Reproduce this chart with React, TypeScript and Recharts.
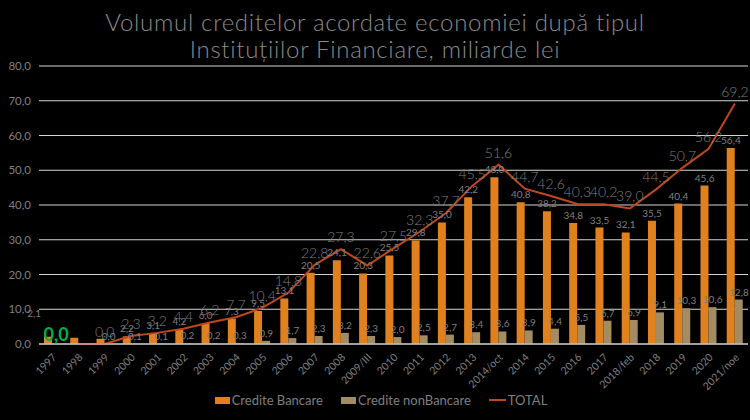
import { ComposedChart, Bar, Line, XAxis, YAxis, CartesianGrid, Legend, LabelList } from 'recharts';

const years = [
  '1997', '1998', '1999', '2000', '2001', '2002', '2003', '2004', '2005', '2006',
  '2007', '2008', '2009/III', '2010', '2011', '2012', '2013', '2014/oct', '2014', '2015',
  '2016', '2017', '2018/feb', '2018', '2019', '2020', '2021/noe',
];
const bancare = [
  2.1, 1.8, 1.5, 2.2, 3.1, 4.2, 6.0, 7.3, 9.5, 13.1,
  20.5, 24.1, 20.3, 25.5, 29.8, 35.0, 42.2, 48.0, 40.8, 38.2,
  34.8, 33.5, 32.1, 35.5, 40.4, 45.6, 56.4,
];
const nonBancare = [
  0.0, null, 0.0, 0.1, 0.1, 0.2, 0.2, 0.3, 0.9, 1.7,
  2.3, 3.2, 2.3, 2.0, 2.5, 2.7, 3.4, 3.6, 3.9, 4.4,
  5.5, 6.7, 6.9, 9.1, 10.3, 10.6, 12.8,
];
const total = [
  null, 0.0, 0.0, 2.3, 3.2, 4.4, 6.2, 7.7, 10.4, 14.8,
  22.8, 27.3, 22.6, 27.5, 32.3, 37.7, 45.5, 51.6, 44.7, 42.6,
  40.3, 40.2, 39.0, 44.5, 50.7, 56.2, 69.2,
];
const yTicks = [0, 10, 20, 30, 40, 50, 60, 70, 80];

const ORANGE = '#E1811E';
const TAN = '#A38C61';
const RED = '#C0461E';
const GREY = '#7f7f7f';
const FONT = 'Lato, "DejaVu Sans", sans-serif';
const BAR = 8;

const data = years.map((y, i) => ({ year: y, bancare: bancare[i], nonBancare: nonBancare[i], total: total[i] }));

const fmt = (v: number) => v.toFixed(1).replace('.', ',');

const XTick = (props: any) => {
  const { x, y, payload } = props;
  return (
    <text x={x + 5} y={y + 6} textAnchor="end" fontSize={10.5} fill={GREY} fontFamily={FONT}
      transform={`rotate(-45, ${x + 5}, ${y + 6})`}>
      {payload.value}
    </text>
  );
};

// labels drawn from hidden lines so zero-height bars still get their value
const barLabel = (dx: number, skip: number[]) => (props: any) => {
  const { x, y, value, index } = props;
  if (value == null || skip.includes(index)) return null;
  // the first label was dragged off to the left in the original
  const shiftX = index === 0 && dx < 0 ? -14 : 0;
  const shiftY = index === 0 && dx < 0 ? -16 : 0;
  return (
    <text x={x + dx + shiftX} y={y - 4 + shiftY} textAnchor="middle" fontSize={10} fill={GREY} fontFamily={FONT}>
      {fmt(value)}
    </text>
  );
};

const nonBancareLabel = (props: any) => {
  const { x, y, value, index } = props;
  if (value == null) return null;
  if (index === 0) {
    return (
      <text x={x + BAR / 2} y={y - 3} textAnchor="middle" fontSize={18} fontWeight={700} fill="#00B050" fontFamily={FONT}>
        {fmt(value)}
      </text>
    );
  }
  return barLabel(BAR / 2, [])(props);
};

const totalLabel = (props: any) => {
  const { x, y, value, index } = props;
  if (value == null || index === 1) return null;
  return (
    <text x={x} y={y - 7} textAnchor="middle" fontSize={14} fontWeight={300} fill={GREY} fontFamily={FONT}>
      {fmt(value)}
    </text>
  );
};

const LegendContent = () => (
  <div style={{ display: 'flex', justifyContent: 'center', gap: 18, fontFamily: FONT, fontSize: 13, color: GREY, marginLeft: 14 }}>
    <span style={{ display: 'flex', alignItems: 'center' }}>
      <span style={{ width: 15, height: 7, background: ORANGE, display: 'inline-block', marginRight: 2 }} />Credite Bancare
    </span>
    <span style={{ display: 'flex', alignItems: 'center' }}>
      <span style={{ width: 15, height: 7, background: TAN, display: 'inline-block', marginRight: 2 }} />Credite nonBancare
    </span>
    <span style={{ display: 'flex', alignItems: 'center' }}>
      <span style={{ width: 17, height: 2, background: RED, display: 'inline-block', marginRight: 2 }} />TOTAL
    </span>
  </div>
);

export default function App() {
  return (
    <div style={{ position: 'absolute', left: 0, top: 0, width: 750, height: 420, background: '#000' }}>
      <div style={{
        position: 'absolute', top: 8, left: 0, width: 750, textAlign: 'center',
        fontFamily: FONT, fontWeight: 300, fontSize: 24, letterSpacing: 0.7, lineHeight: '27px', color: '#8a8a8a',
      }}>
        Volumul creditelor acordate economiei după tipul<br />Instituțiilor Financiare, miliarde lei
      </div>
      <ComposedChart width={750} height={420} data={data}
        margin={{ top: 66, right: 2, left: 0, bottom: 6 }} barSize={BAR} barGap={0}>
        <CartesianGrid vertical={false} stroke="#d4d4d4" strokeWidth={1} />
        <XAxis dataKey="year" interval={0} tick={<XTick />} tickLine={false}
          axisLine={{ stroke: '#d4d4d4' }} height={48} />
        <YAxis domain={[0, 80]} ticks={yTicks} tickFormatter={fmt} width={39} axisLine={false}
          tickLine={false} tick={{ fontSize: 11.5, fill: GREY, fontFamily: FONT }} />
        <Legend verticalAlign="bottom" height={22} content={<LegendContent />} />
        <Bar dataKey="bancare" fill={ORANGE} isAnimationActive={false} />
        <Bar dataKey="nonBancare" fill={TAN} isAnimationActive={false} />
        <Line dataKey="bancare" stroke="none" dot={false} activeDot={false} legendType="none" isAnimationActive={false}>
          <LabelList dataKey="bancare" content={barLabel(-BAR / 2, [1, 2])} />
        </Line>
        <Line dataKey="nonBancare" stroke="none" dot={false} activeDot={false} legendType="none" isAnimationActive={false}>
          <LabelList dataKey="nonBancare" content={nonBancareLabel} />
        </Line>
        <Line dataKey="total" stroke={RED} strokeWidth={2} dot={false} isAnimationActive={false}>
          <LabelList dataKey="total" content={totalLabel} />
        </Line>
      </ComposedChart>
    </div>
  );
}
